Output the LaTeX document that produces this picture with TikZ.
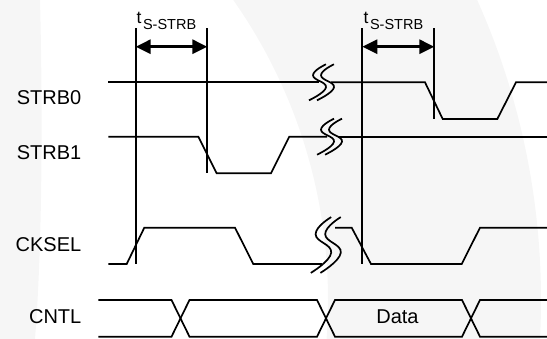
\documentclass[tikz,border=0pt]{standalone}
\usepackage{fontspec}
\setmainfont{Liberation Sans}
\usetikzlibrary{arrows.meta}
\definecolor{wm}{RGB}{246,246,246}
\newcommand\brkmark[4]{%
  \begin{scope}[shift={(#1,#2)},xscale=#3,yscale=#4]
    \draw[sig] plot[smooth,tension=0.8] coordinates {(6,-18) (-7,-7) (6,5) (-11,18)};
    \draw[sig] plot[smooth,tension=0.8] coordinates {(14,-18) (1,-7) (14,5) (-3,18)};
  \end{scope}}
\begin{document}
\begin{tikzpicture}[x=1pt,y=-1pt,
  sig/.style={line width=1.7pt, line join=miter},
  lab/.style={font=\fontsize{20}{22}\selectfont, inner sep=0pt, anchor=base east},
  tlab/.style={inner sep=0pt, anchor=base west},
  meas/.style={line width=2.9pt, {Triangle[length=15pt,width=14pt]}-{Triangle[length=15pt,width=14pt]}}]
\useasboundingbox (0,0) rectangle (547,339);
% faint watermark
\begin{scope}
  \clip (0,0) rectangle (547,339);
  \fill[wm, even odd rule] (-194,300) circle[radius=735pt] (-194,300) circle[radius=522pt];
  \fill[wm] (0,0) -- (40,0) .. controls (43,120) and (42,250) .. (35,339) -- (0,339) -- cycle;
\end{scope}
% labels
\node[lab] (lstrb0) at (81.5,105) {STRB0};
\node[lab] (lstrb1) at (81.5,160) {STRB1};
\node[lab] (lcksel) at (81.5,251.7) {CKSEL};
\node[lab] (lcntl) at (81.5,323.3) {CNTL};
\node[tlab] (t1) at (136.5,23.5) {\fontsize{17.5}{18}\selectfont t\kern1.5pt\raisebox{-6.5pt}{\fontsize{14.5}{15}\selectfont S-STRB}};
\node[tlab] (t2) at (363.5,23.5) {\fontsize{17.5}{18}\selectfont t\kern1.5pt\raisebox{-6.5pt}{\fontsize{14.5}{15}\selectfont S-STRB}};
% reference verticals
\coordinate (v1t) at (135.7,28.3); \coordinate (v1b) at (135.7,264);
\coordinate (v2t) at (207.3,28.3); \coordinate (v2b) at (207.3,173.3);
\coordinate (v3t) at (362.3,28.3); \coordinate (v3b) at (362.3,264);
\coordinate (v4t) at (434.3,28.3); \coordinate (v4b) at (434.3,119);
\draw[sig] (v1t) -- (v1b);
\draw[sig] (v2t) -- (v2b);
\draw[sig] (v3t) -- (v3b);
\draw[sig] (v4t) -- (v4b);
% measurement arrows
\coordinate (a1l) at (135.7,46.7); \coordinate (a1r) at (207.3,46.7);
\coordinate (a2l) at (362.3,46.7); \coordinate (a2r) at (434.3,46.7);
\draw[meas] (a1l) -- (a1r);
\draw[meas] (a2l) -- (a2r);
% STRB0
\draw[sig] (108.3,82.3) -- (319,82.3);
\draw[sig] (331,82.3) -- (425,82.3) -- (442.7,119) -- (497.3,119) -- (516,82.3) -- (547,82.3);
\brkmark{320}{82.3}{1}{1}
% STRB1
\draw[sig] (108.3,136.7) -- (198.3,136.7) -- (216.7,173.3) -- (271,173.3) -- (289.3,136.7) -- (327,136.7);
\draw[sig] (339,136.7) -- (547,136.7);
\brkmark{328}{136.7}{1}{1}
% CKSEL
\draw[sig] (108.3,264) -- (126.7,264) -- (144.3,227.7) -- (235,227.7) -- (253.3,264) -- (322,264);
\draw[sig] (335,227.7) -- (351.7,227.7) -- (371,264) -- (461.7,264) -- (480,227.7) -- (547,227.7);
\brkmark{324}{245}{1.2}{1.55}
% CNTL bus
\draw[sig] (98.3,300) -- (171.5,300) -- (189.5,336.7) -- (317,336.7) -- (335,300) -- (462,300) -- (480,336.7) -- (547,336.7);
\draw[sig] (98.3,336.7) -- (171.5,336.7) -- (189.5,300) -- (317,300) -- (335,336.7) -- (462,336.7) -- (480,300) -- (547,300);
\node[inner sep=0pt, anchor=base, font=\fontsize{20}{22}\selectfont] (data) at (397.5,323.3) {Data};
\end{tikzpicture}
\end{document}
